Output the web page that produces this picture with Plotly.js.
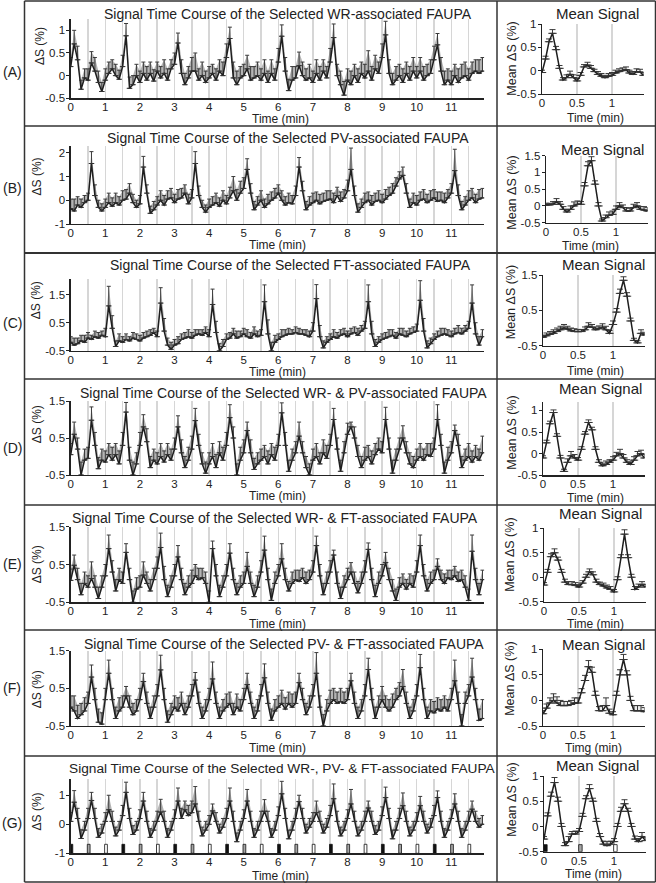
<!DOCTYPE html>
<html><head><meta charset="utf-8">
<script src="https://cdn.plot.ly/plotly-3.0.1.min.js"></script>
<style>html,body{margin:0;padding:0;background:#fff}#chart{width:656px;height:883px}</style>
</head><body><div id="chart"></div>
<script>
// ---------------- DATA ----------------
const timeMain = [0,0.1,0.2,0.3,0.4,0.5,0.6,0.7,0.8,0.9,1,1.1,1.2,1.3,1.4,1.5,1.6,1.7,1.8,1.9,2,2.1,2.2,2.3,2.4,2.5,2.6,2.7,2.8,2.9,3,3.1,3.2,3.3,3.4,3.5,3.6,3.7,3.8,3.9,4,4.1,4.2,4.3,4.4,4.5,4.6,4.7,4.8,4.9,5,5.1,5.2,5.3,5.4,5.5,5.6,5.7,5.8,5.9,6,6.1,6.2,6.3,6.4,6.5,6.6,6.7,6.8,6.9,7,7.1,7.2,7.3,7.4,7.5,7.6,7.7,7.8,7.9,8,8.1,8.2,8.3,8.4,8.5,8.6,8.7,8.8,8.9,9,9.1,9.2,9.3,9.4,9.5,9.6,9.7,9.8,9.9,10,10.1,10.2,10.3,10.4,10.5,10.6,10.7,10.8,10.9,11,11.1,11.2,11.3,11.4,11.5,11.6,11.7,11.8,11.9];
const timeMean = [0,0.05,0.1,0.15,0.2,0.25,0.3,0.35,0.4,0.45,0.5,0.55,0.6,0.65,0.7,0.75,0.8,0.85,0.9,0.95,1,1.05,1.1,1.15,1.2,1.25,1.3,1.35,1.4,1.45];

const sigA = [0.2,0.7,0.35,-0.3,-0.05,-0.1,0.28,0.1,-0.15,-0.35, -0.1,0.05,0.15,0,-0.08,0.2,0.88,-0.28,-0.2,0, -0.15,0.05,-0.1,0.05,-0.12,0.1,-0.05,0.05,-0.1,0.15, 0.25,0.72,0.05,-0.2,-0.05,0.1,0.1,-0.1,0,-0.15, -0.05,0.05,-0.1,0.1,0,0.4,0.82,-0.05,-0.2,-0.05, 0,0.15,-0.1,-0.05,0,-0.1,0.05,-0.15,0.05,-0.1, 0.3,0.87,0.1,-0.33,-0.1,-0.05,0.22,0,-0.1,-0.05, -0.15,0.05,-0.1,0.1,-0.05,0.3,0.84,0,-0.2,-0.43, -0.1,-0.2,0,-0.15,0.05,-0.05,0.1,-0.1,0.15,0.05, 0.4,0.9,0.05,-0.2,-0.1,0,-0.15,0.05,-0.1,0.1, -0.05,0.1,-0.1,0,0.05,0.35,0.68,0.1,-0.2,-0.1, -0.2,0,-0.15,-0.05,0,-0.1,0.05,0.1,0.05,0.1];
const errA = [0.2,0.3,0.3,0.2,0.2,0.25,0.25,0.3,0.25,0.2, 0.25,0.25,0.2,0.25,0.2,0.25,0.27,0.25,0.2,0.25, 0.25,0.25,0.3,0.25,0.25,0.2,0.25,0.3,0.25,0.2, 0.25,0.22,0.3,0.25,0.25,0.3,0.4,0.25,0.3,0.25, 0.25,0.2,0.25,0.25,0.3,0.3,0.25,0.35,0.3,0.25, 0.25,0.3,0.3,0.25,0.3,0.25,0.3,0.25,0.3,0.25, 0.3,0.25,0.3,0.25,0.3,0.25,0.3,0.3,0.25,0.3, 0.25,0.3,0.3,0.25,0.25,0.3,0.3,0.25,0.3,0.3, 0.25,0.3,0.25,0.3,0.25,0.3,0.45,0.3,0.3,0.25, 0.3,0.3,0.3,0.25,0.3,0.25,0.3,0.25,0.3,0.3, 0.25,0.3,0.3,0.25,0.3,0.3,0.25,0.3,0.3,0.25, 0.3,0.25,0.3,0.3,0.3,0.25,0.25,0.25,0.3,0.3];

const sigB = [-0.35,-0.45,-0.2,-0.3,-0.1,0,1.55,0.2,-0.3,-0.45, -0.3,-0.1,-0.25,-0.1,-0.2,0,0.05,0.3,-0.1,-0.3, -0.15,1.4,0.3,-0.55,-0.4,-0.2,0,-0.2,0.05,0.1, -0.1,0.05,0.1,0.3,-0.15,0.1,1.55,0.2,-0.3,-0.5, -0.3,-0.2,-0.1,-0.25,0,-0.15,0.1,0.4,0,0.3, 0.5,1.3,0.3,-0.4,-0.2,0,-0.3,-0.15,0,0.1, 0.3,0,-0.2,-0.1,-0.15,0.2,1.4,0.4,-0.4,-0.2, -0.1,0,-0.15,-0.05,0,0.05,-0.1,0.2,-0.05,0.1, 0.4,1.3,0.2,-0.5,-0.3,-0.1,0,-0.2,-0.05,0, -0.1,0.05,0.2,0.3,0.6,0.9,1.05,0.3,-0.3,-0.1, -0.2,0,0.05,-0.1,0,0.1,-0.05,0,-0.1,0.1, 0.3,1.25,0.2,-0.4,-0.2,0,0.1,-0.1,0.05,0.1];
const errB = [0.4,0.5,0.35,0.35,0.3,0.3,0.5,0.45,0.3,0.3, 0.35,0.4,0.35,0.4,0.35,0.4,0.4,0.4,0.35,0.3, 0.35,0.45,0.35,0.3,0.35,0.35,0.4,0.4,0.35,0.4, 0.35,0.4,0.4,0.35,0.4,0.35,0.5,0.4,0.3,0.3, 0.35,0.35,0.4,0.35,0.4,0.35,0.45,0.6,0.45,0.5, 0.45,0.45,0.4,0.35,0.35,0.4,0.35,0.4,0.35,0.4, 0.35,0.4,0.35,0.4,0.35,0.4,0.4,0.4,0.35,0.35, 0.4,0.35,0.4,0.35,0.4,0.35,0.4,0.35,0.4,0.35, 0.45,0.9,0.4,0.35,0.35,0.4,0.35,0.4,0.35,0.4, 0.35,0.4,0.35,0.4,0.35,0.3,0.35,0.4,0.35,0.4, 0.4,0.35,0.4,0.35,0.4,0.35,0.4,0.35,0.4,0.35, 0.4,0.9,0.45,0.35,0.35,0.4,0.4,0.35,0.4,0.4];

const sigC = [-0.2,-0.3,-0.25,-0.15,-0.2,-0.05,-0.1,0,-0.05,0.05, 0,1.1,0.3,-0.35,-0.15,-0.2,-0.1,-0.15,-0.05,-0.1, -0.15,-0.05,0,0.05,0.15,0,1.2,0.2,-0.3,-0.45, -0.3,-0.25,-0.1,-0.05,0,-0.05,0.05,0.1,0.05,0.15, 0,1.15,0.15,-0.5,-0.35,-0.1,-0.05,0.1,-0.05,0, 0.1,0,-0.05,0.1,0,0.05,1.25,0.1,-0.5,-0.2, -0.1,0,0.05,0.1,0.1,0.15,0.1,0.1,0.05,0, 0.2,1.36,0,-0.4,-0.2,-0.1,0,-0.05,0.05,0.1, 0,0.1,0.15,0.05,0.2,0.3,1.25,0.1,-0.35,-0.2, -0.1,-0.05,0,0.05,-0.05,0.1,0.05,0,0.1,0.15, 0.2,1.3,0.2,-0.4,-0.25,-0.1,0,0.05,0.1,0.05, 0,0.1,0.15,0.1,0.2,0.3,1.2,0.1,-0.3,0];
const errC = [0.2,0.25,0.2,0.2,0.25,0.2,0.15,0.2,0.2,0.15, 0.3,0.7,0.45,0.2,0.25,0.2,0.2,0.15,0.2,0.2, 0.2,0.2,0.2,0.2,0.15,0.2,0.55,0.45,0.25,0.25, 0.2,0.25,0.2,0.2,0.25,0.2,0.2,0.15,0.2,0.2, 0.25,0.55,0.4,0.25,0.25,0.2,0.2,0.2,0.25,0.2, 0.2,0.25,0.2,0.25,0.2,0.2,0.6,0.5,0.3,0.25, 0.2,0.25,0.2,0.2,0.15,0.2,0.2,0.15,0.2,0.2, 0.3,0.5,0.4,0.25,0.2,0.2,0.25,0.2,0.2,0.2, 0.2,0.2,0.2,0.25,0.2,0.25,0.6,0.45,0.25,0.2, 0.2,0.2,0.25,0.2,0.2,0.2,0.25,0.2,0.2,0.2, 0.25,0.7,0.45,0.25,0.2,0.2,0.2,0.25,0.2,0.2, 0.2,0.2,0.25,0.2,0.2,0.25,0.65,0.4,0.3,0.25];

const sigD = [0.05,0.6,0.2,-0.5,-0.1,-0.05,0.98,0.3,-0.33,-0.1, -0.15,0.05,-0.1,0.05,-0.2,0.3,1.2,-0.1,-0.5,-0.2, 0.3,0.8,0.4,-0.3,-0.1,-0.2,0,-0.15,0.05,-0.1, 0.2,0.8,0.1,-0.3,-0.1,0.2,0.97,0.3,-0.2,-0.45, -0.2,0,-0.3,0.1,-0.1,0.3,1.05,0.5,-0.5,-0.1, 0.1,0.7,0.1,-0.35,-0.2,-0.1,0,-0.2,0.05,-0.1, 0.3,1.18,0.3,-0.4,-0.1,0.1,0.55,0.1,-0.3,-0.5, -0.1,0,-0.2,0.1,-0.05,0.3,1,0.2,-0.4,0.1, 0.6,0.8,0.5,0,-0.3,-0.1,0,-0.2,0.05,0.2, 0.1,1,0.2,-0.45,-0.1,0.2,0.5,0.1,-0.2,-0.3, -0.1,0,-0.1,0.05,0,0.2,1,0.3,-0.45,-0.1, 0.1,0.7,0.3,-0.3,-0.1,0,-0.15,0,-0.1,0.1];
const errD = [0.3,0.33,0.3,0.35,0.3,0.3,0.36,0.35,0.3,0.3, 0.3,0.3,0.35,0.3,0.35,0.35,0.26,0.35,0.35,0.3, 0.35,0.33,0.35,0.3,0.3,0.3,0.35,0.3,0.3,0.3, 0.3,0.3,0.35,0.3,0.35,0.35,0.33,0.3,0.3,0.3, 0.3,0.35,0.35,0.3,0.35,0.35,0.35,0.3,0.3,0.35, 0.35,0.23,0.35,0.3,0.3,0.3,0.3,0.35,0.3,0.35, 0.3,0.27,0.35,0.3,0.3,0.3,0.38,0.3,0.3,0.3, 0.3,0.35,0.3,0.35,0.35,0.3,0.3,0.3,0.3,0.3, 0.3,0.13,0.3,0.3,0.3,0.35,0.3,0.35,0.3,0.3, 0.3,0.33,0.3,0.35,0.3,0.3,0.33,0.3,0.3,0.3, 0.3,0.35,0.3,0.3,0.35,0.3,0.4,0.3,0.3,0.35, 0.3,0.15,0.3,0.3,0.3,0.35,0.3,0.3,0.3,0.45];

const sigE = [0.08,0.48,0.1,-0.3,0,-0.1,0.13,-0.1,-0.4,-0.1, 0.2,0.92,0.3,-0.2,0.1,0,0.82,0.1,-0.5,-0.15, -0.1,0.22,0,-0.2,0.1,0.4,0.95,0.1,-0.35,-0.1, 0.2,0.7,0.1,-0.3,-0.1,0,0.2,0.1,0.15,0, -0.5,0.92,0.2,-0.35,-0.1,0.2,0.8,0.1,-0.3,-0.1, 0,0.45,0,-0.35,-0.1,0.3,0.88,0.1,-0.45,0, 0.2,0.65,0.1,-0.2,0,0.1,0.05,0.15,0,0.1, 0.3,1,0.2,-0.3,0,0.3,0.75,0,-0.4,-0.1, 0.1,0.3,0,-0.25,0,0.3,0.9,0.1,-0.35,0, 0.2,0.55,0.1,-0.2,-0.45,-0.1,0,-0.15,0,-0.1, 0.3,1,0.2,-0.2,0,0.1,0.45,0.1,0,0.15, 0.1,0.2,0.05,0.1,-0.1,-0.45,0.85,0.1,-0.3,0.1];
const errE = [0.3,0.27,0.3,0.3,0.3,0.3,0.44,0.3,0.3,0.3, 0.3,0.36,0.3,0.3,0.3,0.3,0.23,0.3,0.3,0.3, 0.3,0.35,0.3,0.3,0.3,0.3,0.38,0.35,0.3,0.3, 0.3,0.3,0.3,0.3,0.3,0.35,0.3,0.3,0.25,0.3, 0.3,0.2,0.3,0.3,0.3,0.3,0.25,0.3,0.3,0.3, 0.3,0.37,0.3,0.3,0.3,0.3,0.37,0.3,0.3,0.3, 0.3,0.4,0.3,0.25,0.3,0.25,0.3,0.25,0.3,0.25, 0.3,0.25,0.3,0.3,0.3,0.3,0.13,0.3,0.3,0.3, 0.3,0.25,0.3,0.3,0.3,0.3,0.17,0.3,0.3,0.3, 0.3,0.27,0.3,0.3,0.3,0.25,0.25,0.25,0.25,0.3, 0.3,0.28,0.3,0.3,0.3,0.25,0.2,0.25,0.25,0.2, 0.25,0.25,0.25,0.25,0.3,0.3,0.43,0.3,0.3,0.25];

const sigF = [0,-0.1,-0.3,-0.2,-0.1,0.1,0.8,0.2,-0.4,-0.45, 0.2,0.9,0.2,-0.3,-0.1,0,0.3,0,-0.2,-0.1, 0.2,0.68,0.1,-0.3,0,0.3,0.99,0.2,-0.4,-0.2, 0,-0.1,0.1,-0.2,0,0.3,0.72,0.1,-0.3,-0.1, 0.2,0.75,0.1,-0.3,-0.1,0,0.1,-0.2,0,-0.1, 0.2,0.6,0.1,-0.3,-0.1,0.3,0.78,0.1,-0.35,-0.1, 0,0.1,-0.05,0.1,0,0.1,0.65,0.2,-0.2,0, 0.3,0.9,0,-0.5,-0.1,0.1,0.2,0.1,0.15,0.1, 0.2,0.7,0.1,-0.3,-0.1,0.3,1,0.2,-0.3,0, 0.2,0,-0.1,0,0.2,0.3,0.55,0.1,-0.3,-0.1, 0.3,1.05,0.2,-0.3,-0.1,-0.15,-0.05,-0.1,0,-0.1, 0.2,0.7,0.1,-0.5,0.1,0.3,0.8,0.2,-0.35,-0.3];
const errF = [0.3,0.4,0.35,0.3,0.35,0.3,0.32,0.3,0.35,0.3, 0.3,0.35,0.3,0.3,0.35,0.3,0.25,0.3,0.3,0.3, 0.3,0.22,0.3,0.3,0.3,0.3,0.39,0.3,0.3,0.3, 0.3,0.35,0.3,0.3,0.3,0.3,0.2,0.3,0.3,0.3, 0.3,0.45,0.3,0.3,0.3,0.35,0.3,0.3,0.35,0.3, 0.3,0.3,0.3,0.3,0.3,0.3,0.37,0.3,0.3,0.3, 0.3,0.35,0.3,0.3,0.35,0.3,0.25,0.3,0.3,0.3, 0.3,0.55,0.3,0.3,0.3,0.35,0.3,0.3,0.35,0.3, 0.3,0.2,0.3,0.3,0.3,0.3,0.3,0.3,0.3,0.3, 0.35,0.3,0.3,0.35,0.3,0.35,0.45,0.3,0.3,0.3, 0.3,0.35,0.3,0.3,0.3,0.3,0.3,0.3,0.3,0.3, 0.3,0.55,0.3,0.3,0.3,0.3,0.5,0.3,0.3,0.5];

const sigG = [0.1,0.76,0.2,-0.49,-0.2,0.2,0.82,0.2,-0.45,-0.3, 0.1,0.5,0.1,-0.4,-0.2,0.3,1.1,0.2,-0.35,-0.2, 0.2,0.8,0.1,-0.45,-0.2,0.1,0.42,0.1,-0.45,-0.2, 0.2,0.8,0.2,0.5,0.3,0.4,0.7,0.1,-0.4,-0.2, 0,0.46,0.1,-0.3,-0.1,0.2,0.8,0.1,-0.6,-0.2, 0.2,0.8,0.1,-0.45,-0.2,0.1,0.45,0.1,-0.45,-0.2, 0.3,1.05,0.2,-0.5,-0.2,0.2,0.78,0.2,-0.3,-0.1, 0.1,0.4,0.1,-0.3,-0.1,0.3,0.88,0.1,-0.4,-0.2, 0.2,0.7,0.1,-0.4,-0.2,0.1,0.56,0.1,-0.35,-0.2, 0.3,0.92,0.2,-0.5,-0.2,0.2,0.64,0.1,-0.4,-0.2, 0.1,0.64,0.1,-0.3,-0.1,0.3,0.92,0.1,-0.45,-0.2, 0.2,0.7,0.1,-0.45,-0.2,0.1,0.52,0.1,-0.1,0];
const errG = [0.3,0.4,0.35,0.3,0.3,0.35,0.28,0.35,0.3,0.3, 0.3,0.5,0.35,0.3,0.3,0.35,0.35,0.35,0.3,0.3, 0.3,0.3,0.35,0.3,0.3,0.35,0.44,0.35,0.3,0.3, 0.3,0.45,0.35,0.3,0.35,0.4,0.6,0.35,0.3,0.3, 0.3,0.24,0.3,0.3,0.3,0.35,0.45,0.35,0.3,0.3, 0.3,0.4,0.35,0.3,0.3,0.35,0.4,0.35,0.3,0.3, 0.3,0.43,0.35,0.3,0.3,0.35,0.22,0.35,0.3,0.3, 0.3,0.4,0.35,0.3,0.3,0.35,0.51,0.35,0.3,0.3, 0.3,0.5,0.35,0.3,0.3,0.35,0.24,0.35,0.3,0.3, 0.3,0.36,0.35,0.3,0.3,0.35,0.44,0.35,0.3,0.3, 0.3,0.32,0.35,0.3,0.3,0.35,0.23,0.35,0.3,0.3, 0.3,0.35,0.35,0.3,0.3,0.35,0.28,0.35,0.3,0.3];

const meanA = [-0.04,0.25,0.62,0.8,0.45,0.05,-0.2,-0.15,-0.08,-0.15,-0.22,-0.1,0.08,0.12,0.05,-0.02,-0.08,-0.12,-0.15,-0.12,-0.1,-0.05,-0.02,0,0.02,-0.05,-0.08,-0.02,-0.03,-0.1];
const mErrA = [0.05,0.06,0.06,0.08,0.07,0.06,0.05,0.06,0.07,0.06,0.05,0.06,0.05,0.06,0.06,0.05,0.06,0.06,0.05,0.06,0.06,0.06,0.06,0.06,0.06,0.06,0.06,0.06,0.06,0.06];
const meanB = [0.03,0.03,0.05,0.12,0.05,-0.1,-0.18,-0.1,0,0.05,0.05,0.6,1.2,1.35,0.65,0,-0.45,-0.35,-0.28,-0.25,-0.1,0,-0.05,-0.15,-0.15,-0.05,0,-0.1,-0.12,-0.15];
const mErrB = [0.05,0.05,0.08,0.1,0.08,0.08,0.06,0.1,0.12,0.1,0.08,0.1,0.12,0.12,0.1,0.1,0.06,0.08,0.1,0.1,0.1,0.1,0.08,0.1,0.08,0.1,0.1,0.08,0.1,0.1];
const meanC = [-0.26,-0.22,-0.18,-0.15,-0.1,-0.05,0,-0.03,-0.08,-0.1,-0.1,-0.1,-0.05,0.05,0.02,-0.05,-0.02,0.02,-0.05,-0.15,0.1,0.45,0.98,1.35,0.9,0.2,-0.35,-0.42,-0.15,-0.2];
const mErrC = [0.06,0.08,0.08,0.1,0.1,0.1,0.1,0.08,0.08,0.08,0.06,0.06,0.08,0.1,0.08,0.08,0.08,0.1,0.1,0.08,0.1,0.1,0.12,0.1,0.1,0.08,0.06,0.06,0.1,0.08];
const meanD = [-0.1,0.25,0.69,0.95,0.4,-0.1,-0.41,-0.2,-0.05,-0.1,-0.15,0.1,0.45,0.72,0.55,0.1,-0.2,-0.28,-0.25,-0.2,-0.15,-0.05,0,-0.1,-0.2,-0.25,-0.15,-0.05,0,-0.1];
const mErrD = [0.05,0.06,0.06,0.06,0.06,0.06,0.05,0.08,0.1,0.08,0.06,0.06,0.06,0.06,0.06,0.06,0.06,0.06,0.08,0.06,0.08,0.08,0.1,0.08,0.06,0.06,0.08,0.1,0.08,0.08];
const meanE = [-0.16,0.1,0.42,0.5,0.35,0.1,-0.1,-0.15,-0.15,-0.17,-0.2,-0.12,0,0.11,0.05,-0.1,-0.15,-0.18,-0.22,-0.25,-0.3,-0.05,0.4,0.88,0.4,0,-0.25,-0.2,-0.15,-0.2];
const mErrE = [0.05,0.06,0.06,0.08,0.06,0.06,0.06,0.06,0.06,0.06,0.05,0.05,0.06,0.06,0.06,0.06,0.05,0.06,0.06,0.06,0.05,0.06,0.06,0.09,0.06,0.06,0.06,0.06,0.06,0.06];
const meanF = [-0.26,-0.15,-0.05,0,-0.05,-0.1,-0.1,-0.1,-0.08,-0.05,-0.05,0.15,0.39,0.66,0.55,0.1,-0.2,-0.2,-0.1,-0.25,-0.28,0.1,0.5,0.8,0.5,0,-0.2,-0.2,-0.2,-0.22];
const mErrF = [0.06,0.08,0.1,0.13,0.12,0.1,0.08,0.08,0.08,0.1,0.1,0.08,0.1,0.12,0.1,0.08,0.08,0.1,0.15,0.08,0.06,0.08,0.1,0.1,0.08,0.08,0.1,0.1,0.1,0.08];
const meanG = [-0.25,0.21,0.6,0.87,0.5,0,-0.38,-0.3,-0.15,-0.15,-0.1,0.2,0.55,0.75,0.5,0.1,-0.2,-0.35,-0.38,-0.35,-0.3,0,0.3,0.45,0.3,0,-0.25,-0.3,-0.2,-0.28];
const mErrG = [0.05,0.06,0.08,0.1,0.08,0.06,0.06,0.1,0.05,0.06,0.06,0.06,0.06,0.08,0.06,0.06,0.06,0.06,0.08,0.06,0.06,0.06,0.08,0.08,0.06,0.06,0.06,0.06,0.08,0.06];

// task events (panel G)
const eventTimes = [0,0.5,1,1.5,2,2.5,3,3.5,4,4.5,5,5.5,6,6.5,7,7.5,8,8.5,9,9.5,10,10.5,11,11.5];
const eventKinds = ['WR','PV','FT','WR','PV','FT','WR','PV','FT','WR','PV','FT','WR','PV','FT','WR','PV','FT','WR','PV','FT','WR','PV','FT'];
const meanEventTimes = [0,0.5,1];
const meanEventKinds = ['WR','PV','FT'];

// text & tick labels
const rowLabels = ['(A)','(B)','(C)','(D)','(E)','(F)','(G)'];
const mainTitles = ['Signal Time Course of the Selected WR-associated FAUPA','Signal Time Course of the Selected PV-associated FAUPA','Signal Time Course of the Selected FT-associated FAUPA','Signal Time Course of the Selected WR- & PV-associated FAUPA','Signal Time Course of the Selected WR- & FT-associated FAUPA','Signal Time Course of the Selected PV- & FT-associated FAUPA','Signal Time Course of the Selected WR-, PV- & FT-associated FAUPA'];
const meanTitle = 'Mean Signal';
const mainXTitle = 'Time (min)';
const meanXTitles = ['Time (min)','Time (min)','Time (min)','Time (min)','Time (min)','Timg (min)','Time (min)'];
const mainYTitle = 'ΔS (%)';
const meanYTitle = 'Mean ΔS (%)';
const mainXTickVals = [0,0.5,1,1.5,2,2.5,3,3.5,4,4.5,5,5.5,6,6.5,7,7.5,8,8.5,9,9.5,10,10.5,11,11.5];
const mainXTickText = ['0','','1','','2','','3','','4','','5','','6','','7','','8','','9','','10','','11',''];
const meanXTickVals = [0,0.5,1];
const meanXTickText = ['0','0.5','1'];
const mainYTicks = [
  [[-0.5,0,0.5,1],['-0.5','0','0.5','1']],
  [[-1,0,1,2],['-1','0','1','2']],
  [[-0.5,0.5,1.5],['-0.5','0.5','1.5']],
  [[-0.5,0.5,1.5],['-0.5','0.5','1.5']],
  [[-0.5,0.5,1.5],['-0.5','0.5','1.5']],
  [[-0.5,0.5,1.5],['-0.5','0.5','1.5']],
  [[-1,0,1],['-1','0','1']]
];
const meanYTicks = [
  [[-0.5,0,0.5,1],['-0.5','0','0.5','1']],
  [[-0.5,0,0.5,1,1.5],['-0.5','0','0.5','1','1.5']],
  [[-0.5,0.5,1.5],['-0.5','0.5','1.5']],
  [[-0.5,0,0.5,1],['-0.5','0','0.5','1']],
  [[-0.5,0,0.5,1],['-0.5','0','0.5','1']],
  [[-0.5,0,0.5,1],['-0.5','0','0.5','1']],
  [[-0.5,0,0.5,1],['-0.5','0','0.5','1']]
];

// ---------------- LAYOUT GEOMETRY (px) ----------------
const W = 656, H = 883;
const fx = p => p / W, fy = p => 1 - p / H;
const FONT = 'Liberation Sans, Arial, sans-serif';
const rows = [
  {sig:sigA, err:errA, mean:meanA, merr:mErrA, yr:[-0.5,1.25], top:19, bot:98.3, myr:[-0.5,1], mx0:542, mtop:24, mbot:94,
   lab:71.7, tx:288, ty:14, ts:14, ytx:39.3, yty:45.7, xtx:280, xty:118.5, mtx:597, mty:14, mytx:511.7, myty:59, mxtx:595, mxty:118.3},
  {sig:sigB, err:errB, mean:meanB, merr:mErrB, yr:[-1,2.3], top:145.7, bot:224, myr:[-0.5,1.5], mx0:546, mtop:155.7, mbot:222.7,
   lab:188.3, tx:288, ty:138.3, ts:14, ytx:36.7, yty:176.7, xtx:277, xty:244.5, mtx:602, mty:149.3, mytx:511.7, myty:193, mxtx:590, mxty:245.7},
  {sig:sigC, err:errC, mean:meanC, merr:mErrC, yr:[-0.5,2.05], top:279.3, bot:350.7, myr:[-0.5,1.5], mx0:543, mtop:275, mbot:345.7,
   lab:322.7, tx:290, ty:265, ts:14, ytx:36.7, yty:300.5, xtx:277, xty:371.7, mtx:603, mty:265, mytx:511.7, myty:302.5, mxtx:595, mxty:370.7},
  {sig:sigD, err:errD, mean:meanD, merr:mErrD, yr:[-0.5,1.5], top:401, bot:475, myr:[-0.5,1.2], mx0:543, mtop:401.7, mbot:475.3,
   lab:447.7, tx:283, ty:393.3, ts:14, ytx:36.7, yty:424.5, xtx:277, xty:495.7, mtx:600, mty:388.3, mytx:511.7, myty:433, mxtx:595, mxty:497.5},
  {sig:sigE, err:errE, mean:meanE, merr:mErrE, yr:[-0.5,1.5], top:526.7, bot:602.3, myr:[-0.5,1], mx0:544, mtop:528.3, mbot:601.7,
   lab:564.3, tx:275, ty:518.3, ts:14, ytx:37.3, yty:564, xtx:277, xty:623.5, mtx:600, mty:513.3, mytx:509.3, myty:554.5, mxtx:595, mxty:623.5},
  {sig:sigF, err:errF, mean:meanF, merr:mErrF, yr:[-0.5,1.5], top:650.7, bot:726, myr:[-0.5,1], mx0:543, mtop:649.3, mbot:726,
   lab:688, tx:284, ty:644, ts:14, ytx:37.3, yty:689, xtx:277, xty:748.3, mtx:603, mty:644.3, mytx:509.3, myty:678.5, mxtx:593, mxty:747.5},
  {sig:sigG, err:errG, mean:meanG, merr:mErrG, yr:[-1,1.55], top:779.3, bot:853.3, myr:[-0.5,1], mx0:544, mtop:776, mbot:851.7,
   lab:823, tx:282, ty:768.3, ts:13.7, ytx:36.7, yty:811.7, xtx:280, xty:875.5, mtx:597, mty:765, mytx:511.7, myty:800, mxtx:593, mxty:874}
];
const MAIN_X0 = 70.7, MAIN_X1 = 484.2, MAIN_RANGE = [0, 11.95];
const MEAN_W = 101.5, MEAN_RANGE = [0, 1.45];
const eventColor = {WR:'#111111', PV:'#a6a6a6', FT:'#ffffff'};

const traces = [];
const layout = {
  width: W, height: H, margin:{l:0,r:0,t:0,b:0}, paper_bgcolor:'#fff', plot_bgcolor:'rgba(0,0,0,0)',
  showlegend:false, font:{family:FONT, size:11, color:'#222'}, annotations:[], shapes:[], bargap:0
};

function ann(text, x, y, size, extra) {
  layout.annotations.push(Object.assign({text:text, x:fx(x), y:fy(y), xref:'paper', yref:'paper',
    xanchor:'center', yanchor:'middle', showarrow:false, font:{family:FONT, size:size, color:'#222'}}, extra||{}));
}

function addSeries(xa, ya, xs, ys, es, isMean) {
  const upper = ys.map((v,i) => v + es[i]);
  traces.push({x:xs, y:ys, xaxis:xa, yaxis:ya, mode:'lines', line:{width:0, color:'rgba(0,0,0,0)'}, hoverinfo:'skip'});
  traces.push({x:xs, y:upper, xaxis:xa, yaxis:ya, mode:'lines', line:{width:0, color:'rgba(0,0,0,0)'},
    fill:'tonexty', fillcolor: isMean ? 'rgba(200,200,200,0.35)' : 'rgba(130,130,130,0.6)', hoverinfo:'skip'});
  traces.push({x:xs, y:ys, xaxis:xa, yaxis:ya, mode:'lines+markers', line:{color:'#1e1e1e', width:1.5},
    marker:{symbol:'line-ew', size: isMean ? 6 : 4, color:'#333', line:{width:1, color:'#333'}},
    error_y:{type:'data', symmetric:false, array:es, arrayminus:es.map(()=>0), color:'#3a3a3a', thickness:1, width: isMean ? 3 : 2}});
}

function addEvents(xa, ya, times, kinds, base, height, width, offset) {
  traces.push({type:'bar', x:times, y:times.map(()=>height), base:base, width:width, offset:offset, xaxis:xa, yaxis:ya,
    marker:{color:kinds.map(k=>eventColor[k]), line:{color:'#111', width:0.8}}, hoverinfo:'skip'});
}

rows.forEach((r, i) => {
  const nMain = 2*i + 1, nMean = 2*i + 2;
  const xm = 'x' + nMain, ym = 'y' + nMain, xn = 'x' + nMean, yn = 'y' + nMean;
  const xkM = 'xaxis' + nMain, ykM = 'yaxis' + nMain, xkN = 'xaxis' + nMean, ykN = 'yaxis' + nMean;
  const axBase = {showline:true, linecolor:'#222', linewidth:1.3, zeroline:false, fixedrange:true,
    tickfont:{family:FONT, size:11.5, color:'#222'}};
  layout[xkM] = Object.assign({}, axBase, {domain:[fx(MAIN_X0), fx(MAIN_X1)], range:MAIN_RANGE, anchor:ym,
    tickmode:'array', tickvals:mainXTickVals, ticktext:mainXTickText, showgrid:true, gridcolor:'#d6d6d6', gridwidth:1.5, ticks:'', ticklabelstandoff:-2});
  layout[ykM] = Object.assign({}, axBase, {domain:[fy(r.bot), fy(r.top)], range:r.yr, anchor:xm,
    tickmode:'array', tickvals:mainYTicks[i][0], ticktext:mainYTicks[i][1], showgrid:false, ticks:'outside', ticklen:3, tickcolor:'#222', ticklabelstandoff:-1});
  layout[xkN] = Object.assign({}, axBase, {domain:[fx(r.mx0), fx(r.mx0 + MEAN_W)], range:MEAN_RANGE, anchor:yn,
    tickmode:'array', tickvals:meanXTickVals, ticktext:meanXTickText, showgrid:true, gridcolor:'#d6d6d6', gridwidth:1.5, ticks:'', ticklabelstandoff:-2});
  layout[ykN] = Object.assign({}, axBase, {domain:[fy(r.mbot), fy(r.mtop)], range:r.myr, anchor:xn,
    tickmode:'array', tickvals:meanYTicks[i][0], ticktext:meanYTicks[i][1], showgrid:false, ticks:'outside', ticklen:3, tickcolor:'#222', ticklabelstandoff:-1});

  if (i === 6) {
    addEvents(xm, ym, eventTimes, eventKinds, -1, 0.31, 0.08, -0.02);
    addEvents(xn, yn, meanEventTimes, meanEventKinds, -0.5, 0.14, 0.05, -0.005);
  }
  addSeries(xm, ym, timeMain, r.sig, r.err, false);
  addSeries(xn, yn, timeMean, r.mean, r.merr, true);

  ann(rowLabels[i], 12, r.lab, 14);
  ann(mainTitles[i], r.tx, r.ty, r.ts);
  ann(mainYTitle, r.ytx, r.yty, 12, {textangle:-90});
  ann(mainXTitle, r.xtx, r.xty, 12);
  ann(meanTitle, r.mtx, r.mty, 15);
  ann(meanYTitle, r.mytx, r.myty, 12.5, {textangle:-90});
  ann(meanXTitles[i], r.mxtx, r.mxty, 12);
});

// panel borders
const BC = '#333';
function hline(y, x0, x1, w) { layout.shapes.push({type:'line', xref:'paper', yref:'paper', x0:fx(x0), x1:fx(x1), y0:fy(y), y1:fy(y), line:{color:BC, width:w||1.5}}); }
function vline(x, y0, y1, w) { layout.shapes.push({type:'line', xref:'paper', yref:'paper', x0:fx(x), x1:fx(x), y0:fy(y0), y1:fy(y1), line:{color:BC, width:w||1.5}}); }
[1, 126, 253, 379, 505, 630, 756, 882].forEach((y, k) => hline(y, 24.5, 655.5, (k===2)?2:1.5));
vline(24.5, 1, 882); vline(655.5, 1, 882); vline(497, 1, 882);

Plotly.newPlot('chart', traces, layout, {staticPlot:true, displayModeBar:false});
</script>
</body></html>
